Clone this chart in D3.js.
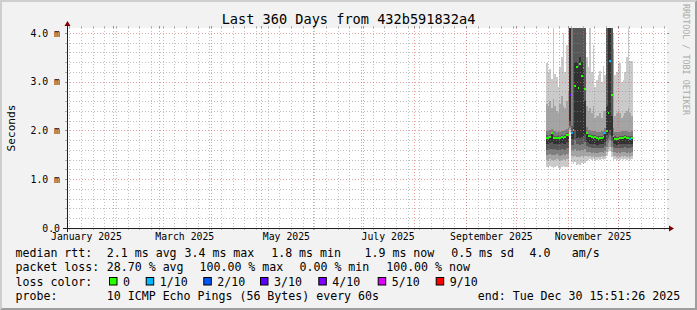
<!DOCTYPE html>
<html><head><meta charset="utf-8">
<script src="https://cdn.jsdelivr.net/npm/d3@7"></script>
<style>
html,body{margin:0;padding:0;background:#f2f2f2;}
svg{display:block;}
text{font-family:"DejaVu Sans Mono",monospace;}
</style></head><body>
<svg id="chart" width="697" height="310"></svg>
<script>
// ---------- data ----------
const titleText = "Last 360 Days from 432b591832a4";
const yAxisTitle = "Seconds";
const days = [
 "2025-10-19","2025-10-20","2025-10-21","2025-10-22","2025-10-23","2025-10-24","2025-10-25",
 "2025-10-26","2025-10-27","2025-10-28","2025-10-29","2025-10-30","2025-10-31",
 "2025-11-01","2025-11-02","2025-11-03","2025-11-04","2025-11-05","2025-11-06","2025-11-07",
 "2025-11-08","2025-11-09","2025-11-10","2025-11-11","2025-11-12","2025-11-13","2025-11-14",
 "2025-11-15","2025-11-16","2025-11-17","2025-11-18","2025-11-19","2025-11-20","2025-11-21",
 "2025-11-22","2025-11-23","2025-11-24","2025-11-25","2025-11-26","2025-11-27","2025-11-28",
 "2025-11-29","2025-11-30","2025-12-01","2025-12-02","2025-12-03","2025-12-04","2025-12-05",
 "2025-12-06","2025-12-07","2025-12-08","2025-12-09"];
// sorted ping times per day (ms), 10 pings
const pings = [
 [1.26,1.40,1.50,1.60,1.73,1.85,1.90,1.99,2.55,3.39],
 [1.24,1.38,1.49,1.59,1.72,1.84,1.89,1.98,2.50,3.20],
 [1.27,1.41,1.51,1.61,1.74,1.86,1.91,2.00,2.60,3.25],
 [1.25,1.40,1.50,1.62,1.76,1.93,1.96,2.03,2.45,3.05],
 [1.22,1.38,1.49,1.60,1.73,1.85,1.90,1.99,2.65,4.50],
 [1.26,1.40,1.50,1.61,1.73,1.85,1.89,1.98,2.50,3.15],
 [1.28,1.41,1.51,1.60,1.72,1.84,1.88,1.97,2.40,3.10],
 [1.24,1.39,1.50,1.60,1.73,1.85,1.90,1.98,2.35,2.90],
 [1.20,1.37,1.48,1.59,1.72,1.84,1.89,1.97,2.55,3.30],
 [1.25,1.40,1.50,1.61,1.74,1.86,1.90,1.99,2.70,3.50],
 [1.27,1.41,1.51,1.61,1.73,1.85,1.89,1.98,2.50,4.00],
 [1.25,1.40,1.50,1.60,1.73,1.86,1.90,2.00,2.45,3.20],
 [1.26,1.41,1.52,1.63,1.76,1.90,1.94,2.02,2.60,3.75],
 [1.28,1.42,1.53,1.64,1.76,1.90,1.95,2.05,2.80,4.50],
 [1.95,2.00,2.05,2.10,2.20,4.50,5.00,5.00,5.00,5.00],
 [1.35,1.48,1.60,1.70,1.82,1.96,2.10,4.50,5.00,5.00],
 [1.32,1.46,1.58,1.70,1.82,2.05,4.50,5.00,5.00,5.00],
 [1.35,1.48,1.62,1.80,2.00,3.40,5.00,5.00,5.00,5.00],
 [1.30,1.45,1.58,1.72,1.85,3.40,5.00,5.00,5.00,5.00],
 [1.32,1.46,1.60,1.72,1.86,3.30,5.00,5.00,5.00,5.00],
 [1.30,1.45,1.58,1.71,1.85,3.50,5.00,5.00,5.00,5.00],
 [1.33,1.47,1.60,1.72,1.87,3.40,5.00,5.00,5.00,5.00],
 [1.31,1.46,1.59,1.72,1.88,3.30,5.00,5.00,5.00,5.00],
 [1.34,1.48,1.62,1.76,1.92,2.60,5.00,5.00,5.00,5.00],
 [1.38,1.47,1.56,1.68,1.76,1.92,1.97,2.08,2.50,3.50],
 [1.40,1.46,1.55,1.66,1.74,1.89,1.93,2.00,2.40,3.30],
 [1.41,1.47,1.55,1.66,1.73,1.88,1.92,2.00,2.45,4.50],
 [1.40,1.46,1.54,1.65,1.72,1.86,1.90,1.99,2.35,3.20],
 [1.42,1.47,1.55,1.65,1.72,1.85,1.90,1.98,2.50,3.76],
 [1.40,1.46,1.54,1.65,1.72,1.86,1.90,1.98,2.25,2.90],
 [1.39,1.45,1.54,1.64,1.71,1.84,1.88,1.97,2.30,3.04],
 [1.41,1.46,1.54,1.65,1.71,1.83,1.88,1.97,2.30,3.14],
 [1.40,1.46,1.55,1.65,1.72,1.84,1.89,1.97,2.35,3.21],
 [1.41,1.47,1.55,1.65,1.72,1.85,1.89,1.98,2.25,3.00],
 [1.40,1.46,1.54,1.65,1.73,1.86,1.90,1.99,2.40,3.32],
 [1.42,1.48,1.57,1.68,1.76,1.92,1.96,2.05,2.40,3.14],
 [1.48,1.56,1.66,1.78,1.90,2.50,5.00,5.00,5.00,5.00],
 [1.55,1.62,1.75,1.85,1.95,4.50,5.00,5.00,5.00,5.00],
 [1.58,1.66,1.80,1.90,2.00,4.50,5.00,5.00,5.00,5.00],
 [1.45,1.55,1.66,1.78,1.88,2.30,4.50,5.00,5.00,5.00],
 [1.40,1.47,1.56,1.67,1.75,1.88,1.93,2.05,3.66,4.00],
 [1.41,1.47,1.55,1.65,1.72,1.83,1.88,1.97,2.30,3.14],
 [1.40,1.46,1.54,1.64,1.71,1.82,1.87,1.96,2.35,3.20],
 [1.41,1.47,1.55,1.65,1.72,1.83,1.88,1.97,2.40,3.38],
 [1.40,1.46,1.54,1.65,1.72,1.84,1.88,1.97,2.35,3.38],
 [1.42,1.47,1.55,1.65,1.72,1.84,1.89,1.98,2.25,3.00],
 [1.40,1.46,1.55,1.65,1.73,1.85,1.89,1.98,2.30,3.04],
 [1.41,1.47,1.55,1.66,1.73,1.86,1.90,1.99,2.35,3.20],
 [1.40,1.46,1.54,1.65,1.72,1.84,1.89,1.98,2.40,3.50],
 [1.41,1.47,1.55,1.65,1.72,1.84,1.88,1.97,2.45,4.50],
 [1.40,1.46,1.54,1.65,1.72,1.83,1.88,1.97,2.35,3.42],
 [1.41,1.47,1.55,1.66,1.73,1.85,1.89,1.98,2.30,3.42]];
const median = [
 1.85,1.84,1.86,1.95,1.85,1.85,1.84,1.85,1.84,1.86,1.85,1.86,1.91,
 1.90,2.72,1.95,2.00,2.92,3.31,2.87,3.36,3.11,3.28,2.84,1.95,1.89,1.88,1.86,1.85,1.86,
 1.84,1.83,1.84,1.85,1.86,1.95,1.99,2.36,3.42,2.73,1.88,1.82,1.82,
 1.83,1.84,1.84,1.85,1.86,1.84,1.84,1.83,1.85];
const loss = [
 0,0,0,0,0,0,0,0,0,0,0,0,0,
 0,3,1,0,0,0,0,0,0,1,0,0,0,0,0,0,0,
 0,0,0,0,0,1,0,0,1,0,0,0,0,
 0,0,0,0,0,0,0,1,0];
const lossLevels = [0,1,2,3,4,5,9];
const lossLabels = ["0","1/10","2/10","3/10","4/10","5/10","9/10"];
const lossColors = ["#26ff00","#00b8ff","#0059ff","#5e00ff","#7e00ff","#dd00ff","#ff0000"];
const smokeGrays = ["#cacaca","#a4a4a4","#7e7e7e","#585858","#323232"];
const yTicks = [0,1,2,3,4];
const yTickLabels = ["0.0","1.0 m","2.0 m","3.0 m","4.0 m"];
const monthLabelStarts = ["2025-01-01","2025-03-01","2025-05-01","2025-07-01","2025-09-01","2025-11-01"];
const monthLabels = ["January 2025","March 2025","May 2025","July 2025","September 2025","November 2025"];
const rttStats = ["median rtt:","2.1 ms avg","3.4 ms max","1.8 ms min","1.9 ms now","0.5 ms sd","4.0","am/s"];
const lossStats = ["packet loss:","28.70 % avg","100.00 % max","0.00 % min","100.00 % now"];
const probeText = ["probe:","10 ICMP Echo Pings (56 Bytes) every 60s","end: Tue Dec 30 15:51:26 2025"];
const lossColorTitle = "loss color:";
const watermark = "RRDTOOL / TOBI OETIKER";

// ---------- layout ----------
const W=697,H=310, X0=67, X1=667, Y0=228, Y1=28;
const tStart = new Date(Date.UTC(2025,0,4,15,51,26));
const tEnd = new Date(Date.UTC(2025,11,30,15,51,26));
const x = d3.scaleUtc().domain([tStart,tEnd]).range([X0,X1]);
const y = d3.scaleLinear().domain([0,4.1]).range([Y0,Y1]);
const parse = d3.utcParse("%Y-%m-%d");
const dayDates = days.map(parse);
const FONT = "DejaVu Sans Mono";

const svg = d3.select("#chart");
svg.append("rect").attr("width",W).attr("height",H).attr("fill","#f2f2f2");
svg.append("path").attr("d",`M0,${H}L2,${H-2}L2,2L${W-2},2L${W},0L0,0Z`).attr("fill","#cecece");
svg.append("path").attr("d",`M2,${H-2}L${W-2},${H-2}L${W-2},2L${W},0L${W},${H}L0,${H}Z`).attr("fill","#9e9e9e");
svg.append("rect").attr("x",X0).attr("y",Y1).attr("width",X1-X0).attr("height",Y0-Y1).attr("fill","#ffffff");

svg.append("defs").append("clipPath").attr("id","clip")
  .append("rect").attr("x",X0).attr("y",Y1).attr("width",X1-X0).attr("height",Y0-Y1);

const plot = svg.append("g").attr("clip-path","url(#clip)");
const bx = d => x(d), bw = d => x(d3.utcDay.offset(d,1)) - x(d);
smokeGrays.forEach((col,k)=>{
  plot.append("g").selectAll("rect").data(dayDates).join("rect")
    .attr("x",bx).attr("width",bw)
    .attr("y",(d,i)=>y(pings[i][9-k]))
    .attr("height",(d,i)=>y(pings[i][k])-y(pings[i][9-k]))
    .attr("fill",col).attr("shape-rendering","crispEdges");
});
plot.append("g").selectAll("rect").data(dayDates).join("rect")
  .attr("x",bx).attr("width",bw)
  .attr("y",(d,i)=>y(median[i])-1).attr("height",2)
  .attr("fill",(d,i)=>lossColors[d3.bisectRight(lossLevels,loss[i])-1])
  .attr("shape-rendering","crispEdges");

// ---------- grid ----------
const grid = svg.append("g").attr("shape-rendering","crispEdges");
const minorY = d3.range(1,21).map(i=>i*0.2).filter(v=>Math.abs(v-Math.round(v))>1e-6);
const majorY = [1,2,3,4];
const minorX = d3.utcMonday.range(tStart,tEnd);
const majorX = d3.utcMonth.range(tStart,tEnd);
const pxl = v => Math.round(v)+0.5;
function hline(v,col,op,top){
  grid.append("line").attr("x1",X0).attr("x2",X1).attr("y1",pxl(y(v))).attr("y2",pxl(y(v)))
    .attr("stroke",col).attr("stroke-opacity",op).attr("stroke-dasharray","1,2");
  grid.append("line").attr("x1",X0-2).attr("x2",X0).attr("y1",pxl(y(v))).attr("y2",pxl(y(v))).attr("stroke",top).attr("stroke-opacity",0.6);
  grid.append("line").attr("x1",X1).attr("x2",X1+2).attr("y1",pxl(y(v))).attr("y2",pxl(y(v))).attr("stroke",top).attr("stroke-opacity",0.6);
}
function vline(t,col,op,top){
  const xx = pxl(x(t));
  grid.append("line").attr("x1",xx).attr("x2",xx).attr("y1",Y1).attr("y2",Y0)
    .attr("stroke",col).attr("stroke-opacity",op).attr("stroke-dasharray","1,2");
  grid.append("line").attr("x1",xx).attr("x2",xx).attr("y1",Y0).attr("y2",Y0+2).attr("stroke",top).attr("stroke-opacity",0.6);
  grid.append("line").attr("x1",xx).attr("x2",xx).attr("y1",Y1-2).attr("y2",Y1).attr("stroke",top).attr("stroke-opacity",0.6);
}
minorY.forEach(v=>hline(v,"#8c8c8c",0.55,"#8c8c8c"));
minorX.forEach(t=>vline(t,"#8c8c8c",0.55,"#8c8c8c"));
majorY.forEach(v=>hline(v,"#e06060",0.6,"#555555"));
majorX.forEach(t=>vline(t,"#e06060",0.6,"#555555"));

// ---------- axes ----------
svg.append("line").attr("x1",X0-4).attr("x2",X1+4).attr("y1",Y0+0.5).attr("y2",Y0+0.5).attr("stroke","#202020");
svg.append("line").attr("x1",X0+0.5).attr("x2",X0+0.5).attr("y1",Y0+4).attr("y2",Y1-4).attr("stroke","#202020");
svg.append("path").attr("d",`M${X1+2},${Y0-2.5}L${X1+2},${Y0+3.5}L${X1+7},${Y0+0.5}Z`).attr("fill","#800000");
svg.append("path").attr("d",`M${X0-2.5},${Y1-2}L${X0+3.5},${Y1-2}L${X0+0.5},${Y1-7}Z`).attr("fill","#800000");

const yAxis = d3.axisLeft(y).tickValues(yTicks).tickFormat((d,i)=>yTickLabels[i]).tickSize(0).tickPadding(7);
svg.append("g").attr("transform",`translate(${X0},0)`).call(yAxis)
  .call(g=>g.select(".domain").remove())
  .attr("font-family",FONT).attr("font-size",9.8)
  .selectAll("text").attr("fill","#000");

const labelDates = monthLabelStarts.map(s=>d3.utcDay.offset(parse(s),15));
const xAxis = d3.axisBottom(x).tickValues(labelDates).tickFormat((d,i)=>monthLabels[i]).tickSize(0).tickPadding(5);
svg.append("g").attr("transform",`translate(0,${Y0})`).call(xAxis)
  .call(g=>g.select(".domain").remove())
  .attr("font-family",FONT).attr("font-size",9.8)
  .selectAll("text").attr("fill","#000");

// ---------- titles ----------
svg.append("text").attr("x",348.5).attr("y",23.5).attr("text-anchor","middle")
  .attr("font-size",13.6).attr("fill","#000").text(titleText);
svg.append("text").attr("transform","translate(15,128) rotate(-90)").attr("text-anchor","middle")
  .attr("font-size",11.1).attr("fill","#000").text(yAxisTitle);
svg.append("text").attr("transform","translate(683,4) rotate(90)")
  .attr("font-size",8.4).attr("fill","#aaaaaa").text(watermark);

// ---------- legend ----------
const leg = svg.append("g").attr("font-size",11.6).attr("fill","#000");
function row(items, xs, yy){
  items.forEach((t,i)=>leg.append("text").attr("x",xs[i]).attr("y",yy).attr("xml:space","preserve").style("white-space","pre").text(t));
}
row(rttStats,[15.5,106.8,184.5,271.2,364.5,451.2,529.5,571.8],257.2);
row(lossStats,[15.5,106.8,199.5,299.5,386.2],271.4);
row([lossColorTitle],[15.5],285.6);
const boxX=[109,145.7,203.3,260,318.3,377.7,435.7];
lossLabels.forEach((l,i)=>{
  leg.append("rect").attr("x",boxX[i]+0.5).attr("y",277.5).attr("width",7.5).attr("height",7.5)
    .attr("fill",lossColors[i]).attr("stroke","#000").attr("stroke-width",1);
  leg.append("text").attr("x",boxX[i]+14).attr("y",285.6).text(l);
});
row(probeText,[15.5,106.8,477.8],299.8);
</script>
</body></html>
